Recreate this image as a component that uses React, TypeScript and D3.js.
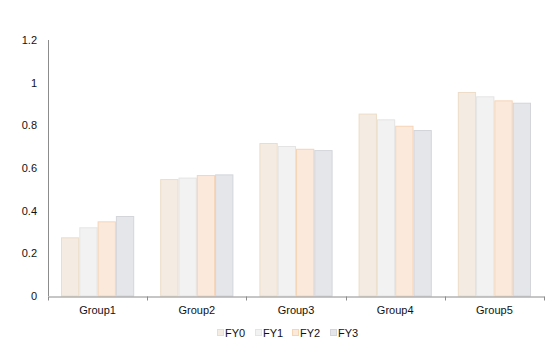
import React, { useRef, useEffect } from 'react';
import * as d3 from 'd3';

const groups = ['Group1', 'Group2', 'Group3', 'Group4', 'Group5'];
const seriesNames = ['FY0', 'FY1', 'FY2', 'FY3'];
const fy0 = [0.275, 0.548, 0.717, 0.855, 0.956];
const fy1 = [0.322, 0.555, 0.703, 0.828, 0.936];
const fy2 = [0.35, 0.567, 0.69, 0.798, 0.917];
const fy3 = [0.375, 0.57, 0.684, 0.778, 0.906];
const yTicks = [0, 0.2, 0.4, 0.6, 0.8, 1, 1.2];

const fills = ['#f4ece2', '#f2f2f2', '#fbe9dc', '#e5e6ea'];
const strokes = ['#eddcc6', '#e4e4e4', '#f6d4b6', '#d3d5db'];

const W = 559, H = 358;
const margin = { left: 48, right: 15, top: 40, bottom: 62 };

const App = () => {
  const svgRef = useRef<SVGSVGElement>(null);

  useEffect(() => {
    const svg = d3.select(svgRef.current);
    svg.selectAll('*').remove();
    const values = [fy0, fy1, fy2, fy3];

    const x0 = d3.scaleBand().domain(groups).range([margin.left, W - margin.right]).paddingInner(0).paddingOuter(0);
    const x1 = d3.scaleBand().domain(seriesNames).range([13, x0.bandwidth() - 13]).padding(0);
    const y = d3.scaleLinear().domain([0, 1.2]).range([H - margin.bottom, margin.top]);

    const font = 'Liberation Sans, Arial, sans-serif';

    // y axis
    svg.append('line')
      .attr('x1', margin.left + 0.5).attr('x2', margin.left + 0.5)
      .attr('y1', y(1.2)).attr('y2', y(0))
      .attr('stroke', '#8c8c8c');
    svg.append('g').selectAll('text').data(yTicks).join('text')
      .attr('x', 37).attr('y', d => y(d) + 4)
      .attr('text-anchor', 'end')
      .attr('font-family', font).attr('font-size', 11).attr('fill', '#111')
      .text(d => String(d));

    // bars
    groups.forEach((g, gi) => {
      const gg = svg.append('g').attr('transform', `translate(${x0(g)},0)`);
      seriesNames.forEach((s, si) => {
        const v = values[si][gi];
        gg.append('rect')
          .attr('x', (x1(s) as number) + 0.5)
          .attr('y', y(v) + 0.5)
          .attr('width', x1.bandwidth() - 1)
          .attr('height', y(0) - y(v) - 0.5)
          .attr('fill', fills[si])
          .attr('stroke', strokes[si])
          .attr('stroke-width', 1);
      });
    });

    // x axis
    const xAxis = d3.axisBottom(x0).tickSize(0).tickPadding(10);
    const gx = svg.append('g').attr('transform', `translate(0,${y(0) + 0.5})`).call(xAxis);
    gx.select('.domain').attr('stroke', '#8c8c8c');
    gx.selectAll('text').attr('font-family', font).attr('font-size', 11).attr('fill', '#111');
    const edges = groups.map(g => x0(g) as number).concat([W - margin.right]);
    gx.selectAll('.edge').data(edges).join('line')
      .attr('class', 'edge')
      .attr('x1', d => Math.round(d) + 0.5).attr('x2', d => Math.round(d) + 0.5)
      .attr('y1', 0).attr('y2', 4)
      .attr('stroke', '#8c8c8c');

    // legend
    const legendX = [217, 255, 292, 330];
    const lg = svg.append('g');
    seriesNames.forEach((s, i) => {
      lg.append('rect')
        .attr('x', legendX[i] + 0.5).attr('y', 329.5)
        .attr('width', 6).attr('height', 6)
        .attr('fill', fills[i]).attr('stroke', strokes[i]);
      lg.append('text')
        .attr('x', legendX[i] + 8).attr('y', 337)
        .attr('font-family', font).attr('font-size', 11).attr('fill', '#111')
        .text(s);
    });
  }, []);

  return (
    <svg ref={svgRef} width={W} height={H} style={{ position: 'absolute', left: 0, top: 0 }} />
  );
};

export default App;
